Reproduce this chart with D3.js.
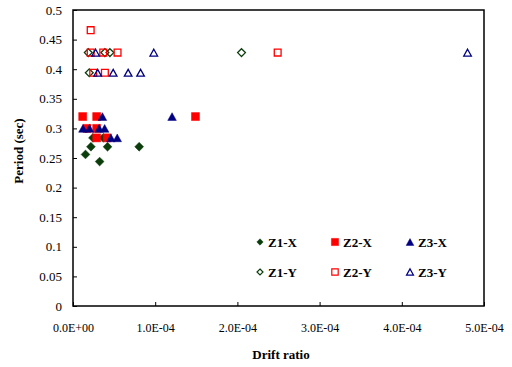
<!DOCTYPE html>
<html>
<head>
<meta charset="utf-8">
<script src="https://cdn.jsdelivr.net/npm/d3@7"></script>
<style>
  html, body { margin: 0; padding: 0; background: #fff; }
  svg text { font-family: "Liberation Serif", "Times New Roman", serif; fill: #000; }
</style>
</head>
<body>
<svg id="chart" width="512" height="367"></svg>
<script>
// Drift ratio (x) versus period in seconds (y), one list per zone and direction
const z1X = [[1.52e-5, 0.256], [2.18e-5, 0.269], [2.42e-5, 0.284], [3.24e-5, 0.244], [3.68e-5, 0.284], [4.20e-5, 0.269], [8.05e-5, 0.269]];
const z2X = [[1.18e-5, 0.320], [2.88e-5, 0.320], [14.9e-5, 0.320], [1.70e-5, 0.300], [2.88e-5, 0.300], [2.88e-5, 0.284], [4.16e-5, 0.284]];
const z3X = [[3.58e-5, 0.320], [12.05e-5, 0.320], [1.21e-5, 0.300], [2.00e-5, 0.300], [3.18e-5, 0.300], [3.85e-5, 0.300], [4.61e-5, 0.284], [5.38e-5, 0.284]];
const z1Y = [[1.86e-5, 0.428], [3.88e-5, 0.428], [4.49e-5, 0.428], [20.5e-5, 0.428], [1.98e-5, 0.394]];
const z2Y = [[2.15e-5, 0.466], [2.15e-5, 0.428], [3.68e-5, 0.428], [5.42e-5, 0.428], [24.9e-5, 0.428], [2.46e-5, 0.394], [3.88e-5, 0.394]];
const z3Y = [[2.75e-5, 0.428], [9.83e-5, 0.428], [48.0e-5, 0.428], [3.00e-5, 0.394], [4.89e-5, 0.394], [6.71e-5, 0.394], [8.22e-5, 0.394]];

const seriesNames = ["Z1-X", "Z2-X", "Z3-X", "Z1-Y", "Z2-Y", "Z3-Y"];
const xTicks = [0, 1e-4, 2e-4, 3e-4, 4e-4, 5e-4];
const xTickLabels = ["0.0E+00", "1.0E-04", "2.0E-04", "3.0E-04", "4.0E-04", "5.0E-04"];
const yTicks = [0, 0.05, 0.1, 0.15, 0.2, 0.25, 0.3, 0.35, 0.4, 0.45, 0.5];
const yTickLabels = ["0", "0.05", "0.1", "0.15", "0.2", "0.25", "0.3", "0.35", "0.4", "0.45", "0.5"];

const GREEN = "#0b3d0b", RED = "#ff0000", NAVY = "#000080";
const series = [
  { name: seriesNames[0], data: z1X, shape: "diamond",  color: GREEN, filled: true },
  { name: seriesNames[1], data: z2X, shape: "square",   color: RED,   filled: true },
  { name: seriesNames[2], data: z3X, shape: "triangle", color: NAVY,  filled: true },
  { name: seriesNames[3], data: z1Y, shape: "diamond",  color: GREEN, filled: false },
  { name: seriesNames[4], data: z2Y, shape: "square",   color: RED,   filled: false },
  { name: seriesNames[5], data: z3Y, shape: "triangle", color: NAVY,  filled: false }
];

const plot = { left: 73, right: 484, top: 10, bottom: 306 };
const x = d3.scaleLinear().domain([0, 5e-4]).range([plot.left, plot.right]);
const y = d3.scaleLinear().domain([0, 0.5]).range([plot.bottom, plot.top]);

const svg = d3.select("#chart");

// marker outlines centred on the origin, r = half width
function markerPath(shape, r) {
  if (shape === "diamond") return `M0,${-r}L${r},0L0,${r}L${-r},0Z`;
  if (shape === "square") return `M${-r},${-r}H${r}V${r}H${-r}Z`;
  const h = r * 0.9;
  return `M0,${-h}L${r},${h}L${-r},${h}Z`;
}
const plotSize = { diamond: 4.4, square: 4, triangle: 4.3 };
const openSize = { diamond: 3.9, square: 3.4, triangle: 3.8 };

// y axis: ticks pointing into the plot
const yAxis = d3.axisLeft(y).tickValues(yTicks).tickSize(-4).tickPadding(11)
  .tickFormat((d, i) => yTickLabels[i]);
const gy = svg.append("g").attr("transform", `translate(${plot.left},0)`).call(yAxis);
gy.select(".domain").remove();
gy.selectAll(".tick line").attr("stroke", "#000").attr("stroke-width", 1);
gy.selectAll(".tick text").style("font-size", "13px");

// x axis
const xAxis = d3.axisBottom(x).tickValues(xTicks).tickSize(-4).tickPadding(17)
  .tickFormat((d, i) => xTickLabels[i]);
const gx = svg.append("g").attr("transform", `translate(0,${plot.bottom})`).call(xAxis);
gx.select(".domain").remove();
gx.selectAll(".tick line").attr("stroke", "#000").attr("stroke-width", 1);
gx.selectAll(".tick text").style("font-size", "12px");

// plot frame
svg.append("rect").attr("x", plot.left).attr("y", plot.top)
  .attr("width", plot.right - plot.left).attr("height", plot.bottom - plot.top)
  .attr("fill", "none").attr("stroke", "#000").attr("stroke-width", 1.5);

// data points
series.forEach(s => {
  const r = s.filled ? plotSize[s.shape] : openSize[s.shape];
  svg.append("g").selectAll("path").data(s.data).join("path")
    .attr("transform", d => `translate(${x(d[0])},${y(d[1])})`)
    .attr("d", markerPath(s.shape, r))
    .attr("fill", s.filled ? s.color : "none")
    .attr("stroke", s.color)
    .attr("stroke-width", s.filled ? 0.5 : 1.3);
});

// legend, three columns by two rows
const legCols = [260, 335, 410];
const legRows = [242, 272];
const legSize = { diamond: 3.2, square: 3.6, triangle: 3.8 };
const legOpen = { diamond: 3.0, square: 3.2, triangle: 3.5 };
series.forEach((s, i) => {
  const cx = legCols[i % 3], cy = legRows[Math.floor(i / 3)];
  const r = s.filled ? legSize[s.shape] : legOpen[s.shape];
  svg.append("path")
    .attr("transform", `translate(${cx},${cy})`)
    .attr("d", markerPath(s.shape, r))
    .attr("fill", s.filled ? s.color : "none")
    .attr("stroke", s.color)
    .attr("stroke-width", s.filled ? 0.5 : 1.2);
  svg.append("text")
    .attr("x", cx + 8).attr("y", cy + 4.5)
    .style("font-size", "13px").style("font-weight", "bold")
    .text(s.name);
});

// axis titles
svg.append("text")
  .attr("x", 281).attr("y", 359)
  .attr("text-anchor", "middle")
  .style("font-size", "13px").style("font-weight", "bold")
  .text("Drift ratio");
svg.append("text")
  .attr("transform", "translate(23,151) rotate(-90)")
  .attr("text-anchor", "middle")
  .style("font-size", "13px").style("font-weight", "bold")
  .text("Period (sec)");
</script>
</body>
</html>
